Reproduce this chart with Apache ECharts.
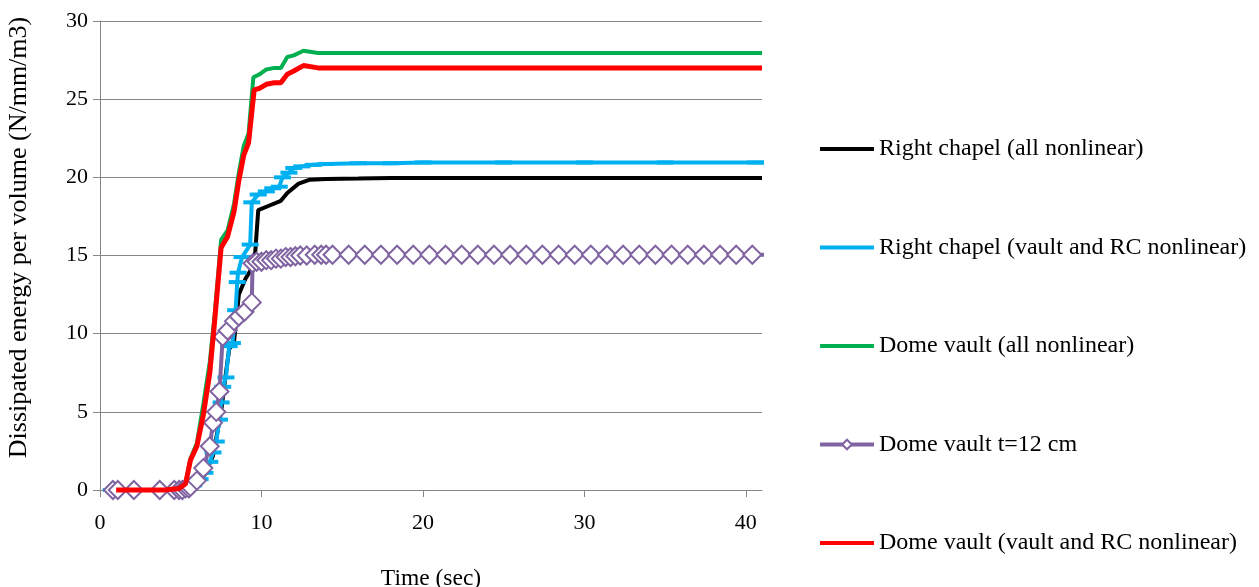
<!DOCTYPE html>
<html>
<head>
<meta charset="utf-8">
<script src="https://cdn.jsdelivr.net/npm/echarts@6/dist/echarts.min.js"></script>
<style>
  html, body { margin: 0; padding: 0; background: #fff; }
  #chart { width: 1259px; height: 587px; }
</style>
</head>
<body>
<div id="chart"></div>
<script>
// series names (legend order)
const seriesNames = [
  'Right chapel (all nonlinear)',
  'Right chapel (vault and RC nonlinear)',
  'Dome vault (all nonlinear)',
  'Dome vault t=12 cm',
  'Dome vault (vault and RC nonlinear)'
]

// Right chapel (all nonlinear)
const rcAllTime = [0.7, 1, 2, 3, 4, 5, 5.5, 6, 6.5, 7, 7.5, 7.8, 8.0, 8.3, 8.6, 9.0, 9.3, 9.6, 9.8, 10.5, 11.2, 11.6, 12.3, 13, 14, 16, 18, 20, 25, 30, 35, 41]
const rcAllValue = [0, 0, 0, 0, 0, 0, 0.2, 0.5, 1.0, 2.2, 5.0, 7.5, 9.0, 9.5, 12.5, 13.5, 14.0, 15.0, 17.9, 18.2, 18.5, 19.0, 19.6, 19.85, 19.9, 19.92, 19.95, 19.95, 19.95, 19.95, 19.95, 19.95]

// Right chapel (vault and RC nonlinear)
const rcVaultTime = [0.7, 1, 2, 3, 4, 4.6, 5.0, 5.4, 5.8, 6.2, 6.5, 6.8, 7.0, 7.2, 7.4, 7.5, 7.6, 7.8, 8.0, 8.2, 8.4, 8.5, 8.55, 8.8, 9.3, 9.4, 9.8, 10.3, 10.7, 11.1, 11.3, 11.7, 12.0, 12.5, 13.2, 14, 16, 18, 20, 25, 30, 35, 40.6, 41.3]
const rcVaultValue = [0, 0, 0, 0, 0, 0, 0.05, 0.1, 0.3, 0.7, 1.1, 1.8, 2.4, 3.1, 4.5, 5.6, 6.6, 7.2, 9.2, 9.4, 11.5, 13.3, 13.9, 14.9, 15.7, 18.4, 18.9, 19.1, 19.3, 19.4, 20.0, 20.3, 20.6, 20.7, 20.8, 20.85, 20.9, 20.9, 20.95, 20.95, 20.95, 20.95, 20.95, 20.95]

// Dome vault (all nonlinear)
const dvAllTime = [1, 2, 3, 4, 4.9, 5.3, 5.6, 6.0, 6.4, 6.8, 7.1, 7.5, 7.9, 8.3, 8.6, 8.9, 9.2, 9.5, 9.9, 10.3, 10.8, 11.2, 11.6, 12.0, 12.6, 13.5, 15, 20, 25, 30, 35, 41]
const dvAllValue = [0, 0, 0, 0, 0.1, 0.4, 2.0, 3.0, 5.5, 8.2, 11.2, 16.0, 16.6, 18.3, 20.3, 22.0, 22.8, 26.4, 26.6, 26.9, 27.0, 27.0, 27.7, 27.8, 28.1, 27.95, 27.95, 27.95, 27.95, 27.95, 27.95, 27.95]

// Dome vault t=12 cm
const dv12Time = [0.8, 1.1, 2.1, 3.7, 4.6, 4.9, 5.1, 5.3, 5.5, 5.6, 6.0, 6.4, 6.8, 7.0, 7.2, 7.4, 7.6, 7.9, 8.3, 8.6, 8.95, 9.4, 9.45, 9.7, 10.0, 10.3, 10.6, 10.9, 11.2, 11.5, 11.8, 12.1, 12.4, 12.8, 13.3, 13.7, 14.0, 14.4,
  15.4, 16.4, 17.4, 18.4, 19.4, 20.4, 21.4, 22.4, 23.4, 24.4, 25.4, 26.4, 27.4, 28.4, 29.4, 30.4, 31.4, 32.4, 33.4, 34.4, 35.4, 36.4, 37.4, 38.4, 39.4, 40.4, 41.4]
const dv12Value = [0, 0, 0, 0, 0, 0, 0, 0.1, 0.1, 0.2, 0.6, 1.4, 2.8, 4.3, 5.0, 6.3, 9.8, 10.2, 10.8, 11.1, 11.4, 12.0, 14.5, 14.6, 14.6, 14.7, 14.7, 14.8, 14.8, 14.9, 14.9, 14.95, 15.0, 15.0, 15.05, 15.05, 15.05, 15.05,
  15.05, 15.05, 15.05, 15.05, 15.05, 15.05, 15.05, 15.05, 15.05, 15.05, 15.05, 15.05, 15.05, 15.05, 15.05, 15.05, 15.05, 15.05, 15.05, 15.05, 15.05, 15.05, 15.05, 15.05, 15.05, 15.05, 15.05]

// Dome vault (vault and RC nonlinear)
const dvVaultTime = [1, 2, 3, 4, 4.9, 5.3, 5.6, 6.0, 6.4, 6.8, 7.1, 7.5, 7.9, 8.3, 8.6, 8.9, 9.2, 9.55, 9.9, 10.3, 10.8, 11.2, 11.6, 12.0, 12.6, 13.5, 15, 20, 25, 30, 35, 41]
const dvVaultValue = [0, 0, 0, 0, 0.1, 0.4, 1.9, 2.8, 4.8, 7.5, 10.8, 15.5, 16.2, 17.8, 19.8, 21.4, 22.2, 25.6, 25.7, 25.95, 26.05, 26.05, 26.6, 26.8, 27.15, 27.0, 27.0, 27.0, 27.0, 27.0, 27.0, 27.0]

const xTicks = { min: 0, max: 41, interval: 10 }
const yTicks = { min: 0, max: 30, interval: 5 }

const zip = (ts, vs) => ts.map((t, i) => [t, vs[i]])

const font = '"Liberation Serif", "Times New Roman", serif'
const gridGray = '#878787'
const hidden = { opacity: 0 }

const chart = echarts.init(document.getElementById('chart'), null, { renderer: 'canvas' })

const option = {
  animation: false,
  textStyle: { fontFamily: font, color: '#000' },
  grid: { left: 100, right: 497, top: 21, bottom: 97, containLabel: false, outerBoundsMode: 'none' },
  legend: {
    orient: 'vertical',
    left: 813,
    top: 132,
    itemWidth: 54,
    itemHeight: 12,
    itemGap: 74.5,
    lineStyle: { width: 4 },
    textStyle: { fontFamily: font, fontSize: 24, color: '#000', lineHeight: 24 },
    data: [
      { name: seriesNames[0], itemStyle: hidden },
      { name: seriesNames[1], itemStyle: hidden },
      { name: seriesNames[2], itemStyle: hidden },
      { name: seriesNames[3] },
      { name: seriesNames[4], itemStyle: hidden }
    ]
  },
  xAxis: {
    type: 'value',
    min: xTicks.min,
    max: xTicks.max,
    interval: xTicks.interval,
    name: 'Time (sec)',
    nameLocation: 'middle',
    nameGap: 77,
    nameTextStyle: { fontFamily: font, fontSize: 23.5, color: '#000', verticalAlign: 'top' },
    axisLine: { lineStyle: { color: gridGray, width: 1 } },
    axisTick: { show: true, length: 7, lineStyle: { color: gridGray } },
    axisLabel: { fontFamily: font, fontSize: 22, color: '#000', margin: 22, showMaxLabel: false },
    splitLine: { show: false }
  },
  yAxis: {
    type: 'value',
    min: yTicks.min,
    max: yTicks.max,
    interval: yTicks.interval,
    name: 'Dissipated energy per volume (N/mm/m3)',
    nameLocation: 'middle',
    nameRotate: 90,
    nameGap: 68,
    nameTextStyle: { fontFamily: font, fontSize: 26, color: '#000', padding: [0, 0, 0, 36] },
    axisLine: { show: true, lineStyle: { color: gridGray, width: 1 } },
    axisTick: { show: true, length: 7, lineStyle: { color: gridGray } },
    axisLabel: { fontFamily: font, fontSize: 22, color: '#000', margin: 12 },
    splitLine: { show: true, lineStyle: { color: gridGray, width: 1 } }
  },
  series: [
    {
      name: seriesNames[0],
      type: 'line',
      z: 1,
      clip: false,
      data: zip(rcAllTime, rcAllValue),
      symbol: 'none',
      lineStyle: { color: '#000000', width: 4 },
      itemStyle: { color: '#000000' }
    },
    {
      name: seriesNames[1],
      type: 'line',
      z: 2,
      data: zip(rcVaultTime, rcVaultValue),
      symbol: 'rect',
      symbolSize: [17, 4],
      showAllSymbol: true,
      lineStyle: { color: '#00B0F0', width: 4 },
      itemStyle: { color: '#00B0F0' }
    },
    {
      name: seriesNames[2],
      type: 'line',
      z: 2,
      clip: false,
      data: zip(dvAllTime, dvAllValue),
      symbol: 'none',
      lineStyle: { color: '#00B050', width: 4 },
      itemStyle: { color: '#00B050' }
    },
    {
      name: seriesNames[3],
      type: 'line',
      z: 4,
      data: zip(dv12Time, dv12Value),
      symbol: 'diamond',
      symbolSize: 18,
      showAllSymbol: true,
      lineStyle: { color: '#8064A2', width: 4 },
      itemStyle: { color: '#ffffff', borderColor: '#8064A2', borderWidth: 2 }
    },
    {
      name: seriesNames[4],
      type: 'line',
      z: 10,
      clip: false,
      data: zip(dvVaultTime, dvVaultValue),
      symbol: 'none',
      lineStyle: { color: '#FF0000', width: 5 },
      itemStyle: { color: '#FF0000' }
    }
  ]
}

chart.setOption(option)
</script>
</body>
</html>
